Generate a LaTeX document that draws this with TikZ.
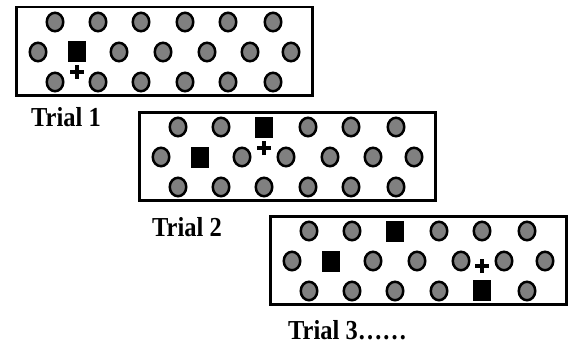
\documentclass[tikz,border=0pt]{standalone}
\usepackage{fontspec}
\setmainfont{Liberation Serif}
\usetikzlibrary{shapes.geometric}
\definecolor{dotgray}{RGB}{128,128,128}
\newcommand{\tallbold}[1]{\scalebox{1}[1.12]{#1}}
\tikzset{
  frame/.style={rectangle,draw=black,line width=2.5pt,fill=white,anchor=north west,inner sep=0pt,minimum width=296pt,minimum height=88pt},
  dot/.style={ellipse,draw=black,fill=dotgray,line width=2.5pt,inner sep=0pt,minimum width=16.5pt,minimum height=18.5pt},
  target/.style={rectangle,fill=black,inner sep=0pt,minimum width=18pt,minimum height=21pt},
  plusmark/.style={line width=3.5pt},
  trialtext/.style={font=\bfseries\fontsize{24.5}{28}\selectfont,anchor=base west,inner sep=0pt}
}
\begin{document}
\begin{tikzpicture}[x=1pt,y=-1pt]
\useasboundingbox (0,0) rectangle (573,345);
% ---------- Panel 1 ----------
\begin{scope}[shift={(15,6)}]
  \node[frame] (box1) at (0,0) {};
  \foreach \x [count=\i] in {40,83,126,170,213,258} \node[dot] (p1a\i) at (\x,16) {};
  \foreach \x [count=\i] in {23,104,148,192,235,276} \node[dot] (p1b\i) at (\x,46) {};
  \node[target] (p1s1) at (62,46) {};
  \foreach \x [count=\i] in {40,83,126,170,213,258} \node[dot] (p1c\i) at (\x,76) {};
  \coordinate (p1plus) at (62,66);
  \draw[plusmark] ([xshift=-7pt]p1plus) -- ([xshift=7pt]p1plus);
  \draw[plusmark] ([yshift=-7pt]p1plus) -- ([yshift=7pt]p1plus);
\end{scope}
% ---------- Panel 2 ----------
\begin{scope}[shift={(138,111)}]
  \node[frame] (box2) at (0,0) {};
  \foreach \x [count=\i] in {40,83,170,213,258} \node[dot] (p2a\i) at (\x,16) {};
  \node[target] (p2s1) at (126,16) {};
  \foreach \x [count=\i] in {23,104,148,192,235,276} \node[dot] (p2b\i) at (\x,46) {};
  \node[target] (p2s2) at (62,46) {};
  \foreach \x [count=\i] in {40,83,126,170,213,258} \node[dot] (p2c\i) at (\x,76) {};
  \coordinate (p2plus) at (126,37);
  \draw[plusmark] ([xshift=-7pt]p2plus) -- ([xshift=7pt]p2plus);
  \draw[plusmark] ([yshift=-7pt]p2plus) -- ([yshift=7pt]p2plus);
\end{scope}
% ---------- Panel 3 ----------
\begin{scope}[shift={(269,215)}]
  \node[frame] (box3) at (0,0) {};
  \foreach \x [count=\i] in {40,83,170,213,258} \node[dot] (p3a\i) at (\x,16) {};
  \node[target] (p3s1) at (126,16) {};
  \foreach \x [count=\i] in {23,104,148,192,235,276} \node[dot] (p3b\i) at (\x,46) {};
  \node[target] (p3s2) at (62,46) {};
  \foreach \x [count=\i] in {40,83,126,170,258} \node[dot] (p3c\i) at (\x,76) {};
  \node[target] (p3s3) at (213,75) {};
  \coordinate (p3plus) at (213,51);
  \draw[plusmark] ([xshift=-7pt]p3plus) -- ([xshift=7pt]p3plus);
  \draw[plusmark] ([yshift=-7pt]p3plus) -- ([yshift=7pt]p3plus);
\end{scope}
% ---------- Labels ----------
\node[trialtext] (t1) at (31,126) {\tallbold{Trial 1}};
\node[trialtext] (t2) at (152,236) {\tallbold{Trial 2}};
\node[trialtext] (t3) at (288,339) {\tallbold{Trial 3……}};
\end{tikzpicture}
\end{document}
